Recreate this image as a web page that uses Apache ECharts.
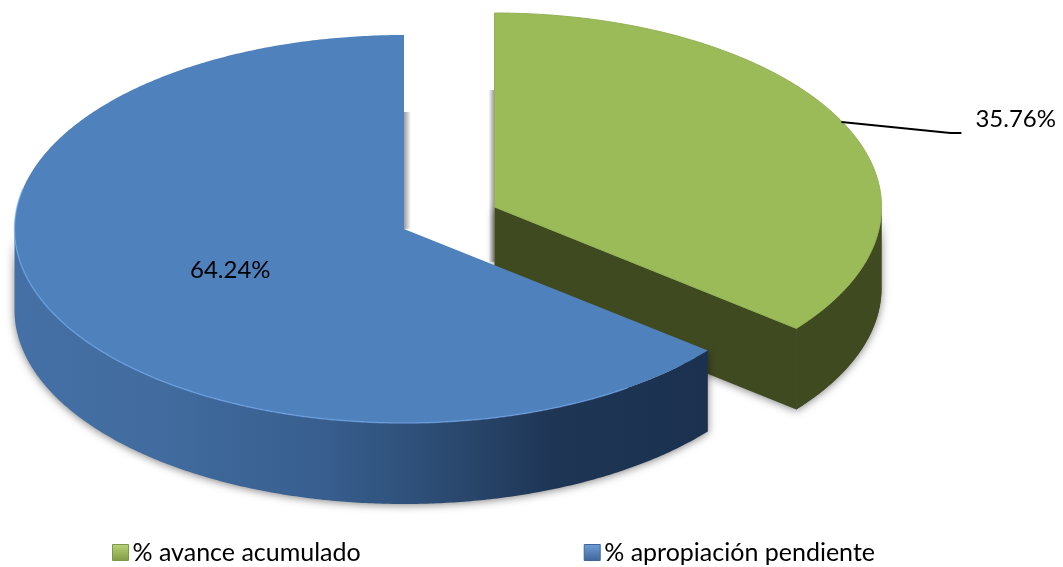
<!DOCTYPE html>
<html>
<head>
<meta charset="utf-8">
<style>html,body{margin:0;padding:0;background:#fff}#chart{width:1063px;height:567px}</style>
<script src="https://cdn.jsdelivr.net/npm/echarts@6/dist/echarts.min.js"></script>
</head>
<body>
<div id="chart"></div>
<script>
const categories = ['% avance acumulado', '% apropiación pendiente'];
const avanceValues = [35.76];
const pendienteValues = [64.24];

const FONT = 'Lato';
const LABEL_SIZE = 24;
const LEGEND_SIZE = 25;
const RY = 194, DEPTH = 81;
const TOTAL = avanceValues[0] + pendienteValues[0];
const chart = echarts.init(document.getElementById('chart'));

function pt(c, rx, deg, dy) {
  const a = deg * Math.PI / 180;
  return [c[0] + rx * Math.sin(a), c[1] - RY * Math.cos(a) + (dy || 0)];
}
function arc(c, rx, from, to, dy) {
  const n = Math.max(2, Math.ceil(Math.abs(to - from) * 2));
  const out = [];
  for (let i = 0; i <= n; i++) out.push(pt(c, rx, from + (to - from) * i / n, dy));
  return out;
}
const SHADOW = { shadowBlur: 8, shadowColor: 'rgba(0,0,0,0.5)', shadowOffsetX: 0, shadowOffsetY: 1 };
const fmt = v => v.toFixed(2) + '%';

function hGrad(x1, x2, stops) {
  return { type: 'linear', x: x1, y: 0, x2: x2, y2: 0, global: true, colorStops: stops };
}

function renderAvance(params, api) {
  const c = [494.5, 207], rx = 387;
  const sweep = api.value(0) / TOTAL * 360;
  const mid = pt(c, rx, sweep / 2);
  const WALL = '#3f4a21';
  const end = pt(c, rx, sweep);
  const outer = arc(c, rx, 90, sweep).concat(arc(c, rx, sweep, 90, DEPTH));
  const inner = [c, end, [end[0], end[1] + DEPTH], [c[0], c[1] + DEPTH]];
  return { type: 'group', silent: true, children: [
    { type: 'rect', shape: { x: c[0] - 6, y: c[1] - 117, width: 6, height: 172 },
      style: { fill: hGrad(c[0] - 6, c[0], [{ offset: 0, color: 'rgba(130,130,130,0)' }, { offset: 1, color: 'rgba(130,130,130,0.85)' }]) } },
    { type: 'polygon', shape: { points: outer }, style: Object.assign({ fill: WALL }, SHADOW) },
    { type: 'polygon', shape: { points: inner }, style: Object.assign({ fill: WALL }, SHADOW) },
    { type: 'polygon', shape: { points: outer }, style: { fill: WALL } },
    { type: 'polygon', shape: { points: [c].concat(arc(c, rx, 0, sweep)) }, style: { fill: '#9bbb59', stroke: '#93b153', lineWidth: 1 } },
    { type: 'polyline', shape: { points: [[mid[0] - 2, mid[1] - 1], [mid[0] + 107, mid[1] + 10], [mid[0] + 118, mid[1] + 10]] },
      style: { fill: 'none', stroke: '#000', lineWidth: 2 } },
    { type: 'text', x: mid[0] + 132, y: mid[1] - 16,
      style: { text: fmt(api.value(0)), fill: '#000', font: LABEL_SIZE + 'px ' + FONT, textAlign: 'left', textBaseline: 'middle' } }
  ]};
}

function renderPendiente(params, api) {
  const c = [404, 229], rx = 389.5;
  const sweep = api.value(0) / TOTAL * 360;
  const wallArc = arc(c, rx, -90, -sweep);
  const wall = wallArc.concat(arc(c, rx, -sweep, -90, DEPTH));
  return { type: 'group', silent: true, children: [
    { type: 'rect', shape: { x: c[0], y: c[1] - 117, width: 7, height: 117 },
      style: { fill: hGrad(c[0], c[0] + 7, [{ offset: 0, color: 'rgba(130,130,130,0.8)' }, { offset: 1, color: 'rgba(130,130,130,0)' }]) } },
    { type: 'polygon', shape: { points: wall },
      style: Object.assign({
        fill: hGrad(c[0] - rx, c[0] + 304, [
          { offset: 0, color: '#4570a6' },
          { offset: 0.2, color: '#426c9f' },
          { offset: 0.45, color: '#375e8e' },
          { offset: 0.6, color: '#2d4d75' },
          { offset: 0.78, color: '#1e3554' },
          { offset: 1, color: '#1c3150' }
        ]) }, SHADOW) },
    { type: 'polygon', shape: { points: [c].concat(arc(c, rx, 0, -sweep)) }, style: { fill: '#4f81bd' } },
    { type: 'polyline', shape: { points: arc(c, rx, -78, -215) },
      style: { fill: 'none', stroke: 'rgba(115,170,240,0.6)', lineWidth: 1.5 } },
    { type: 'text', x: c[0] - 214, y: c[1] + 29,
      style: { text: fmt(api.value(0)), fill: '#000', font: LABEL_SIZE + 'px ' + FONT, textAlign: 'left', textBaseline: 'middle' } }
  ]};
}

function iconFill(light, dark) {
  return { type: 'linear', x: 0, y: 0, x2: 0, y2: 1, colorStops: [
    { offset: 0, color: light }, { offset: 1, color: dark } ] };
}

chart.setOption({
  animation: false,
  backgroundColor: '#ffffff',
  legend: {
    left: 112, top: 540, padding: 0, itemWidth: 16, itemHeight: 16, itemGap: 223, icon: 'rect',
    textStyle: { fontFamily: FONT, fontSize: LEGEND_SIZE, color: '#000', padding: [0, 0, 0, -1] },
    selectedMode: false,
    data: [
      { name: categories[0], itemStyle: { color: iconFill('#b9d47a', '#7f9a42'), borderColor: '#7e9845', borderWidth: 1 } },
      { name: categories[1], itemStyle: { color: iconFill('#6f9fd8', '#3d659a'), borderColor: '#3f6797', borderWidth: 1 } }
    ]
  },
  series: [
    { type: 'custom', name: categories[0], coordinateSystem: 'none', renderItem: renderAvance,
      itemStyle: { color: '#9bbb59' }, data: avanceValues.map(v => [v]) },
    { type: 'custom', name: categories[1], coordinateSystem: 'none', renderItem: renderPendiente,
      itemStyle: { color: '#4f81bd' }, data: pendienteValues.map(v => [v]) }
  ]
});
</script>
</body>
</html>
